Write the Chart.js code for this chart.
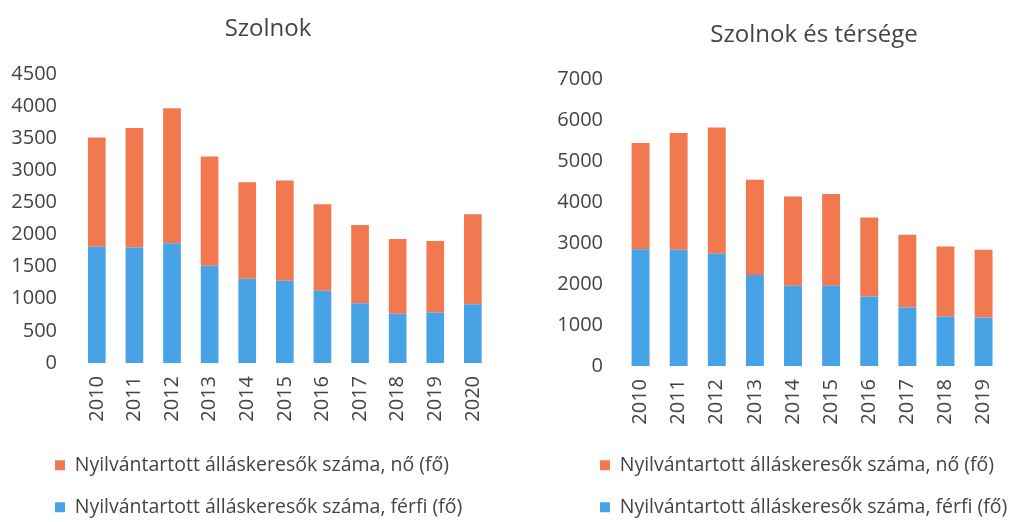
<!DOCTYPE html>
<html lang="hu">
  <head>
    <meta charset="UTF-8">
    <title>Szolnok</title>
    <script src="https://cdn.jsdelivr.net/npm/chart.js"></script>
    <style>
      body { margin: 0; background: #fff; overflow: hidden; }
      .box { position: absolute; top: 0; height: 527px; }
      #left-box { left: 0; width: 510px; }
      #right-box { left: 515px; width: 506px; }
    </style>
  </head>
  <body>
    <div class="box" id="left-box"><canvas id="szolnokChart"></canvas></div>
    <div class="box" id="right-box"><canvas id="tersegChart"></canvas></div>

    <script>
      const labelNo = 'Nyilvántartott álláskeresők száma, nő (fő)';
      const labelFerfi = 'Nyilvántartott álláskeresők száma, férfi (fő)';

      // Szolnok
      const szolnokYears = ['2010', '2011', '2012', '2013', '2014', '2015', '2016', '2017', '2018', '2019', '2020'];
      const szolnokFerfi = [1810, 1800, 1865, 1515, 1310, 1280, 1125, 930, 765, 785, 915];
      const szolnokNo = [1700, 1860, 2100, 1700, 1505, 1560, 1345, 1220, 1165, 1115, 1400];

      // Szolnok és térsége
      const tersegYears = ['2010', '2011', '2012', '2013', '2014', '2015', '2016', '2017', '2018', '2019'];
      const tersegFerfi = [2850, 2835, 2735, 2220, 1960, 1955, 1695, 1425, 1205, 1180];
      const tersegNo = [2590, 2850, 3085, 2320, 2175, 2240, 1930, 1775, 1710, 1655];

      const orange = '#f27850';
      const blue = '#48a2e6';
      const textColor = '#444444';
      const fontFamily = "'Open Sans', sans-serif";

      // moves the legend and the title sideways after layout, the y labels need the left space
      const shiftBoxes = {
        id: 'shiftBoxes',
        afterLayout(chart, args, opts) {
          const lg = chart.legend;
          lg.left = opts.legendLeft;
          const t = chart.titleBlock;
          const half = (t.right - t.left) / 2;
          t.left = opts.titleCenter - half;
          t.right = opts.titleCenter + half;
        }
      };

      function makeChart(id, title, years, ferfi, no, o) {
        const ctx = document.getElementById(id).getContext('2d');
        return new Chart(ctx, {
          type: 'bar',
          data: {
            labels: years,
            datasets: [
              { label: labelFerfi, data: ferfi, backgroundColor: blue },
              { label: labelNo, data: no, backgroundColor: orange }
            ]
          },
          plugins: [shiftBoxes],
          options: {
            responsive: true,
            maintainAspectRatio: false,
            animation: false,
            layout: { padding: { left: o.padLeft, right: o.padRight, top: 0, bottom: 0 } },
            datasets: { bar: { barPercentage: 0.47, categoryPercentage: 1 } },
            plugins: {
              shiftBoxes: { legendLeft: o.legendLeft, titleCenter: o.titleCenter },
              title: {
                display: true,
                text: title,
                color: textColor,
                font: { family: fontFamily, size: 24, weight: 'normal', lineHeight: 1.25 },
                padding: { top: o.titleTop, bottom: o.titleBottom }
              },
              legend: {
                position: 'bottom',
                align: 'start',
                reverse: true,
                labels: {
                  color: textColor,
                  boxWidth: 10,
                  boxHeight: 10,
                  padding: 22.5,
                  font: { family: fontFamily, size: 19.5 }
                }
              },
              tooltip: { enabled: false }
            },
            scales: {
              x: {
                stacked: true,
                grid: { display: false, drawTicks: false },
                border: { display: false },
                ticks: {
                  color: textColor,
                  font: { family: fontFamily, size: 20 },
                  minRotation: 90,
                  maxRotation: 90,
                  padding: 13
                },
                afterFit: function (scale) { scale.height = o.xHeight; }
              },
              y: {
                stacked: true,
                min: 0,
                max: o.max,
                grid: { display: false, drawTicks: false },
                border: { display: false },
                ticks: {
                  stepSize: o.step,
                  color: textColor,
                  font: { family: fontFamily, size: 20 },
                  padding: o.tickPad,
                  callback: function (value) { return String(value); }
                },
                afterFit: function (scale) { scale.width = o.yWidth; }
              }
            }
          }
        });
      }

      makeChart('szolnokChart', 'Szolnok', szolnokYears, szolnokFerfi, szolnokNo, {
        padLeft: 5, padRight: 3, titleTop: 14, titleBottom: 30,
        xHeight: 70, yWidth: 73, tickPad: 21, max: 4500, step: 500,
        legendLeft: 32.5, titleCenter: 268
      });

      makeChart('tersegChart', 'Szolnok és térsége', tersegYears, tersegFerfi, tersegNo, {
        padLeft: 4, padRight: 8.5, titleTop: 20, titleBottom: 29,
        xHeight: 67, yWidth: 102.5, tickPad: 18.5, max: 7000, step: 1000,
        legendLeft: 62.5, titleCenter: 299
      });
    </script>
  </body>
</html>
